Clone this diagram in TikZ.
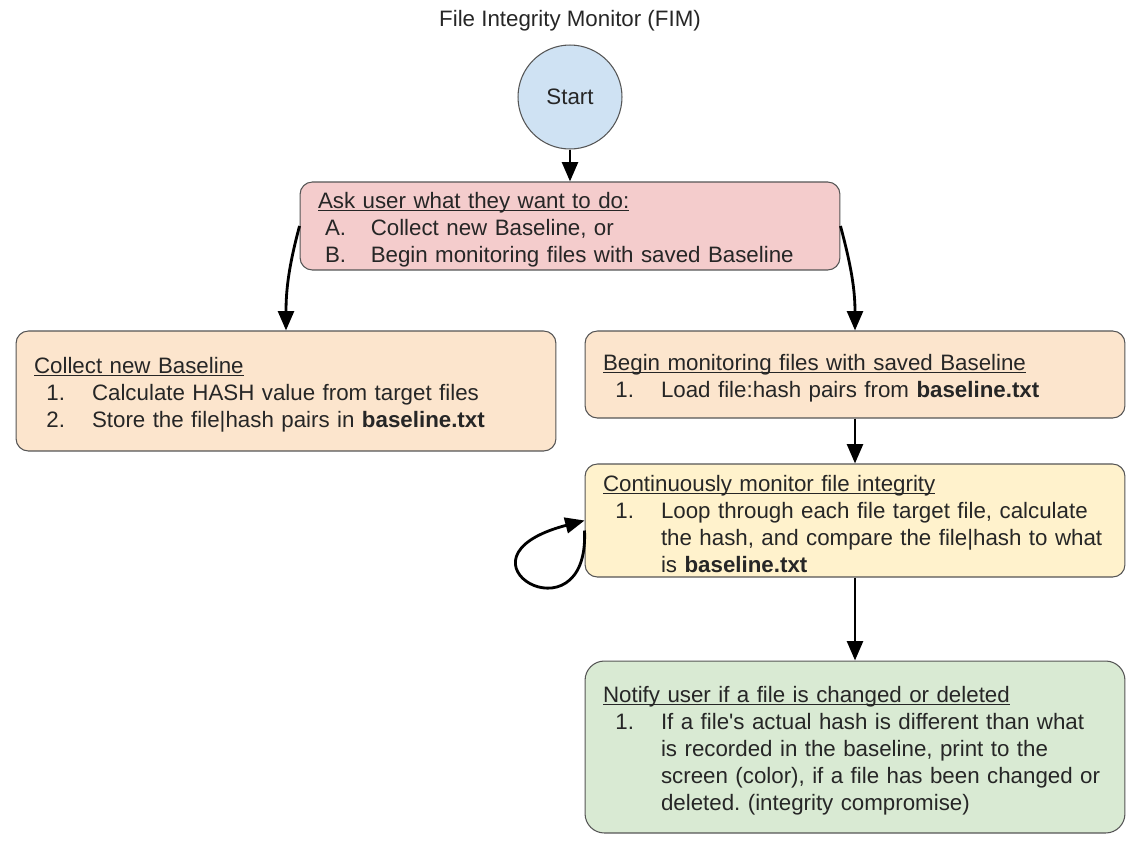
\documentclass[tikz,border=0pt]{standalone}
\usepackage{fontspec}
\setmainfont{Liberation Sans}
\usetikzlibrary{arrows.meta}
\definecolor{askpink}{HTML}{F4CCCC}
\definecolor{peach}{HTML}{FCE5CD}
\definecolor{cream}{HTML}{FFF2CC}
\definecolor{mint}{HTML}{D9EAD3}
\definecolor{skyblue}{HTML}{CFE2F3}
\definecolor{boxline}{HTML}{555555}
\definecolor{txt}{HTML}{262626}
\newcommand{\stepnum}[1]{\hspace*{7pt}\makebox[26pt][l]{#1}}
\newcommand{\headline}[1]{\rule{0pt}{13pt}\setbox0\hbox{#1}\rlap{\rule[-1.6pt]{\wd0}{0.5pt}}\box0}
\frenchspacing

\begin{document}
\begin{tikzpicture}[x=0.02cm, y=-0.02cm,
    box/.style={draw=boxline, line width=0.6pt, rounded corners=7pt,
        text width=10.08cm, inner xsep=0.36cm, inner ysep=0pt, align=left,
        text=txt, font=\fontsize{12.7pt}{15.4pt}\selectfont},
    startnode/.style={circle, draw=boxline, line width=0.6pt, fill=skyblue,
        minimum size=2.08cm, inner sep=0pt, text=txt, font=\fontsize{12.7pt}{15.4pt}\selectfont},
    flow/.style={-{Triangle[length=11pt,width=9pt]}, line width=1.6pt}]
    \useasboundingbox (0,0) rectangle (1143,846);

    \node[text=txt, font=\fontsize{12.7pt}{15.4pt}\selectfont] (title) at (570,21) {File Integrity Monitor (FIM)};
    \node[startnode] (start) at (570,97) {Start};

    \node[box, fill=askpink, minimum height=1.76cm] (ask) at (570,226) {%
        \headline{Ask user what they want to do:}\\
        \hspace*{-3pt}\stepnum{A.}Collect new Baseline, or\\
        \hspace*{-3pt}\stepnum{B.}Begin monitoring files with saved Baseline};

    \node[box, fill=peach, minimum height=2.4cm] (collect) at (286,391) {%
        \headline{Collect new Baseline}\\
        \stepnum{1.}Calculate HASH value from target files\\
        \stepnum{2.}Store the file|hash pairs in \textbf{baseline.txt}};

    \node[box, fill=peach, minimum height=1.74cm] (begin) at (855,374.5) {%
        \headline{Begin monitoring files with saved Baseline}\\
        \stepnum{1.}Load file:hash pairs from \textbf{baseline.txt}};

    \node[box, fill=cream, minimum height=2.26cm] (cont) at (855,520.5) {%
        \headline{Continuously monitor file integrity}\\
        \stepnum{1.}Loop through each file target file, calculate\\
        \stepnum{}the hash, and compare the file|hash to what\\
        \stepnum{}is \textbf{baseline.txt}};

    \node[box, fill=mint, rounded corners=11pt, minimum height=3.44cm] (notify) at (855,747) {%
        \headline{Notify user if a file is changed or deleted}\\
        \stepnum{1.}If a file\textquotesingle s actual hash is different than what\\
        \stepnum{}is recorded in the baseline, print to the\\
        \stepnum{}screen (color), if a file has been changed or\\
        \stepnum{}deleted. (integrity compromise)};

    \draw[flow] (start) -- (ask);
    \draw[flow] (ask.west) to[out=-105, in=90] (collect.north);
    \draw[flow] (ask.east) to[out=-75, in=90] (begin.north);
    \draw[flow] (begin) -- (cont);
    \draw[flow] (cont) -- (notify);
    \draw[flow] ([yshift=-0.2cm]cont.west) .. controls +(5,115) and +(-145,38) .. (cont.west);
\end{tikzpicture}
\end{document}
